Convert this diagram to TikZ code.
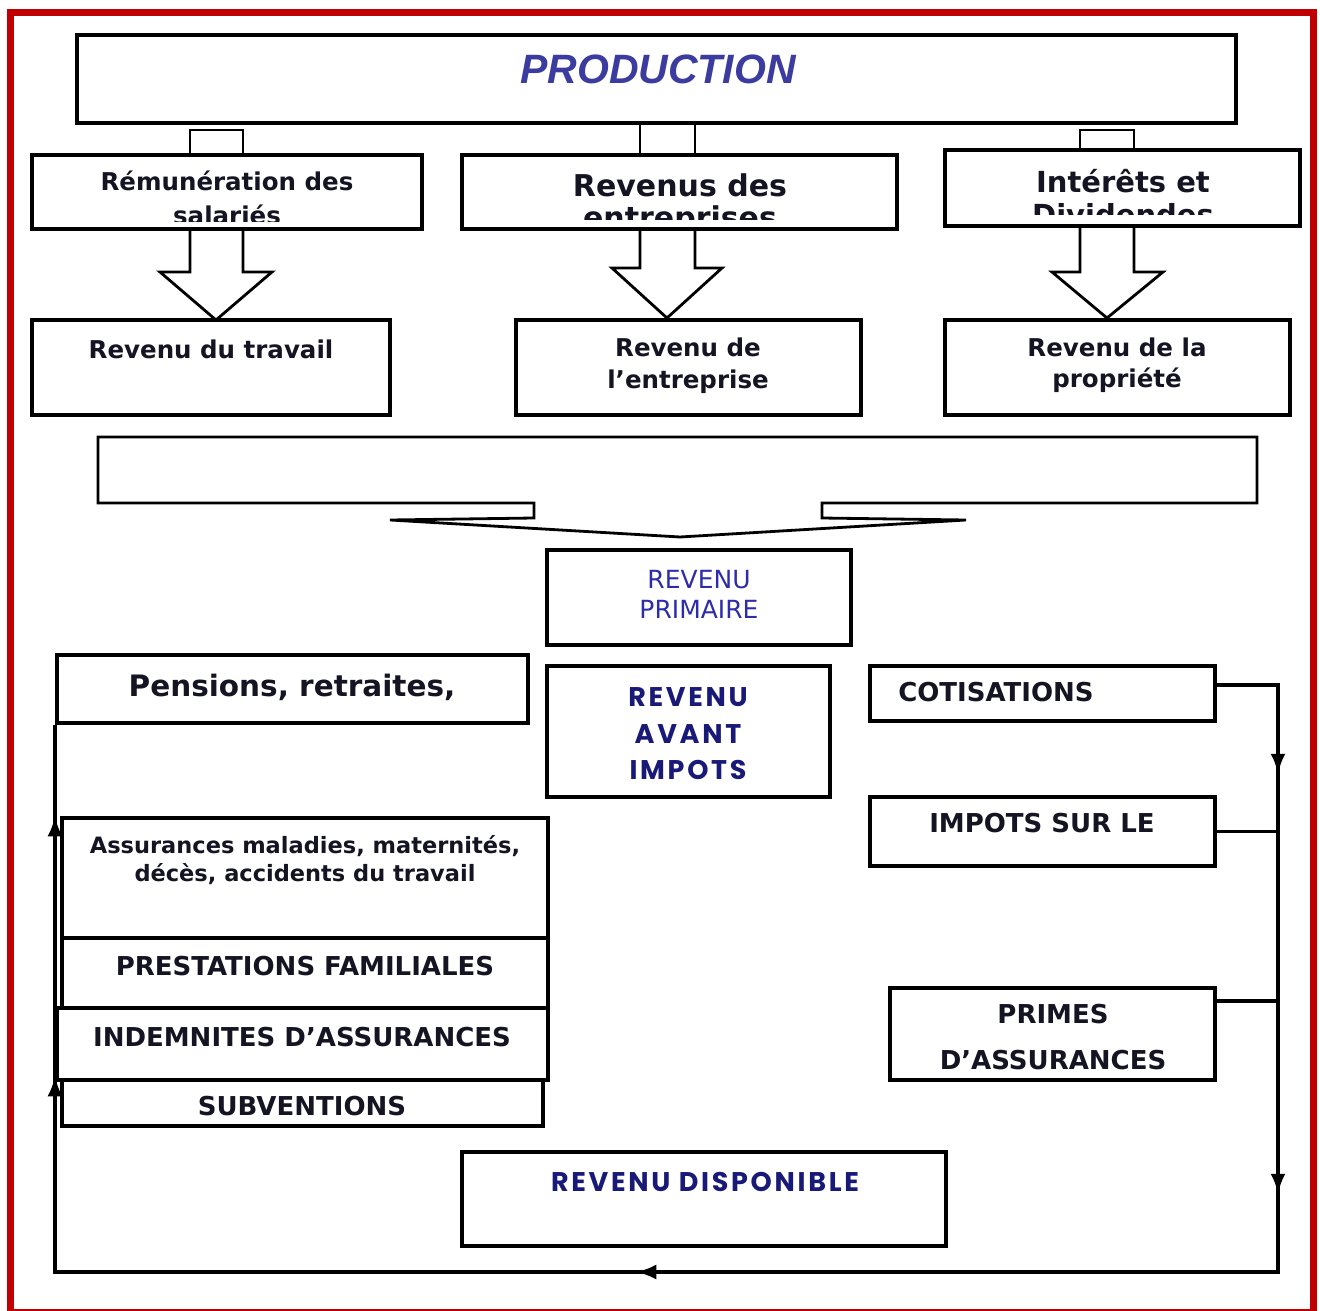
\documentclass[tikz,border=0pt]{standalone}
\usepackage{fontspec}
\setmainfont{DejaVu Sans}
\newfontfamily\prodfont{Liberation Sans}
\newfontfamily\comicfont{Poppins}[LetterSpace=10]
\usetikzlibrary{arrows.meta,decorations.markings}
\definecolor{frame}{RGB}{192,0,0}
\definecolor{prodblue}{RGB}{60,60,160}
\definecolor{primblue}{RGB}{45,45,170}
\definecolor{navy}{RGB}{25,25,120}
\definecolor{txt}{RGB}{20,20,35}
\tikzset{
  box/.style={draw=black, line width=3.5pt, fill=white, inner sep=0pt},
  blk/.style={draw=black, line width=2.8pt, fill=white, line join=miter},
  lbl/.style={anchor=base, inner sep=0pt, text=txt, font=\fontsize{24.5}{29}\selectfont\bfseries},
  caps/.style={anchor=base, inner sep=0pt, text=txt, font=\fontsize{26}{30}\selectfont\bfseries},
  small/.style={anchor=base, inner sep=0pt, text=txt, font=\fontsize{22.5}{27}\selectfont\bfseries},
  big/.style={anchor=base, inner sep=0pt, text=txt, font=\fontsize{30}{34}\selectfont\bfseries},
  prim/.style={anchor=base, inner sep=0pt, text=primblue, font=\fontsize{25}{29}\selectfont},
  comic/.style={anchor=base, inner sep=0pt, text=navy, font=\fontsize{27}{31}\selectfont\comicfont\bfseries},
  conn/.style={draw=black, line width=3.2pt},
  tip/.tip={Latex[length=20pt,width=15pt]}
}
\begin{document}
\begin{tikzpicture}[x=1pt,y=-1pt]
\useasboundingbox (0,0) rectangle (1320,1311);
\fill[white] (0,0) rectangle (1320,1311);

% block arrows (shapes)
\draw[blk] (190,130) rectangle (243,155);
\draw[blk] (640,123) -- (640,155);
\draw[blk] (695,123) -- (695,155);
\draw[blk] (1080,130) rectangle (1134,150);
\draw[blk] (190,229) -- (190,272) -- (160,272) -- (216,320) -- (272,272) -- (243,272) -- (243,229);
\draw[blk] (640,229) -- (640,268) -- (612,268) -- (667,318) -- (722,268) -- (695,268) -- (695,229);
\draw[blk] (1080,226) -- (1080,272) -- (1052,272) -- (1107,318) -- (1163,272) -- (1134,272) -- (1134,226);
\draw[blk] (98,437) -- (1257,437) -- (1257,503) -- (822,503) -- (822,518) -- (966,520) -- (680,537) -- (390,520) -- (534,518) -- (534,503) -- (98,503) -- cycle;

% boxes
\node[box, line width=4.5pt, minimum width=1159pt, minimum height=88pt] (prod) at (656.5,79) {};
\node[box, minimum width=390pt, minimum height=74pt] (rem) at (227,192) {};
\node[box, minimum width=435pt, minimum height=74pt] (rde) at (679.5,192) {};
\node[box, minimum width=355pt, minimum height=76pt] (int) at (1122.5,188) {};
\node[box, minimum width=358pt, minimum height=95pt] (rtr) at (211,367.5) {};
\node[box, minimum width=345pt, minimum height=95pt] (ren) at (688.5,367.5) {};
\node[box, minimum width=345pt, minimum height=95pt] (rpr) at (1117.5,367.5) {};
\node[box, minimum width=304pt, minimum height=95pt] (rprim) at (699,597.5) {};
\node[box, minimum width=471pt, minimum height=68pt] (pens) at (292.5,689) {};
\node[box, minimum width=283pt, minimum height=131pt] (rai) at (688.5,731.5) {};
\node[box, minimum width=345pt, minimum height=55pt] (cot) at (1042.5,693.5) {};
\node[box, minimum width=345pt, minimum height=69pt] (imp) at (1042.5,831.5) {};
\node[box, minimum width=325pt, minimum height=92pt] (prim) at (1052.5,1034) {};
\node[box, minimum width=486pt, minimum height=120pt] (ass) at (305,878) {};
\node[box, minimum width=486pt, minimum height=70pt] (pf) at (305,973) {};
\node[box, minimum width=491pt, minimum height=72pt] (ind) at (302.5,1044) {};
\node[box, minimum width=481pt, minimum height=46pt] (sub) at (302.5,1103) {};
\node[box, minimum width=484pt, minimum height=94pt] (rdisp) at (704,1199) {};

% texts
\node[anchor=base, inner sep=0pt, text=prodblue, font=\fontsize{41}{46}\selectfont\prodfont\bfseries\itshape] (tprod) at (658,84) {PRODUCTION};
\node[lbl] (trem1) at (227,190) {Rémunération des};
\begin{scope}
  \clip ([yshift=9pt]rem.south west) rectangle (rem.north east);
  \node[lbl] (trem2) at (227,224) {salariés};
\end{scope}
\node[big] (trde1) at (680,196) {Revenus des};
\begin{scope}
  \clip ([yshift=11pt]rde.south west) rectangle (rde.north east);
  \node[big] (trde2) at (680,228) {entreprises};
\end{scope}
\node[big, font=\fontsize{29}{33}\selectfont\bfseries] (tint1) at (1123,193) {Intérêts et};
\begin{scope}
  \clip ([yshift=13pt]int.south west) rectangle (int.north east);
  \node[big, font=\fontsize{29}{33}\selectfont\bfseries] (tint2) at (1123,225) {Dividendes};
\end{scope}
\node[lbl] (trtr) at (211,358) {Revenu du travail};
\node[lbl] (tren1) at (688,356) {Revenu de};
\node[lbl] (tren2) at (688,388) {l’entreprise};
\node[lbl] (trpr1) at (1117,356) {Revenu de la};
\node[lbl] (trpr2) at (1117,387) {propriété};
\node[prim] (tprim1) at (699,588) {REVENU};
\node[prim] (tprim2) at (699,618) {PRIMAIRE};
\node[big, font=\fontsize{29.5}{34}\selectfont\bfseries] (tpens) at (292,696) {Pensions, retraites,};
\node[comic] (trai1) at (688,706) {REVENU};
\node[comic] (trai2) at (688,743) {AVANT};
\node[comic] (trai3) at (688,779) {IMPOTS};
\node[caps] (tcot) at (996,701) {COTISATIONS};
\node[caps] (timp) at (1042,832) {IMPOTS SUR LE};
\node[caps] (tprim1b) at (1053,1023) {PRIMES};
\node[caps] (tprim2b) at (1053,1069) {D’ASSURANCES};
\node[small] (tass1) at (305,853) {Assurances maladies, maternités,};
\node[small] (tass2) at (305,881) {décès, accidents du travail};
\node[caps] (tpf) at (305,975) {PRESTATIONS FAMILIALES};
\node[caps] (tind) at (302,1046) {INDEMNITES D’ASSURANCES};
\node[caps] (tsub) at (302,1115) {SUBVENTIONS};
\node[comic] (trdisp) at (705,1191) {REVENU DISPONIBLE};

% connectors
\coordinate (rtop) at (1278,685);
\coordinate (rbot) at (1278,1272);
\coordinate (lbot) at (55,1272);
\draw[conn, postaction={decorate}, decoration={markings,
    mark=at position 150pt with {\arrow{tip}},
    mark=at position 570pt with {\arrow{tip}},
    mark=at position 1290pt with {\arrow{tip}},
    mark=at position 2067pt with {\arrow{tip}},
    mark=at position 2327pt with {\arrow{tip}}}]
  ([yshift=8.5pt]cot.east) -- (rtop) -- (rbot) -- (lbot) -- (lbot |- pens.south west);
\draw[conn] (imp.east) -- (imp.east -| rtop);
\draw[conn] ([yshift=33pt]prim.east) -- ([yshift=33pt]prim.east -| rtop);

% frame
\draw[frame, line width=7pt] (10,13) rectangle (1313,1312);
\end{tikzpicture}
\end{document}
